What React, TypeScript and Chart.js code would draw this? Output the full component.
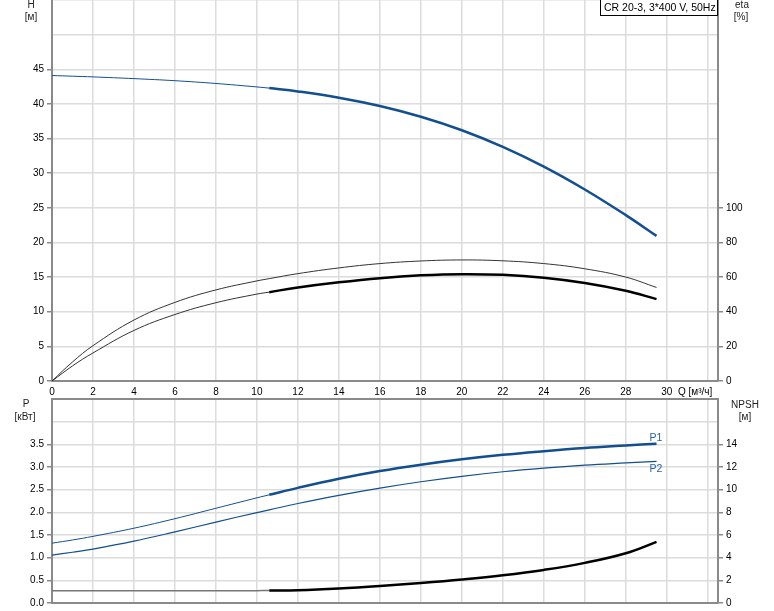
import React, { useEffect, useRef } from "react";
import { Chart, registerables } from "chart.js";
Chart.register(...registerables);

// Flow rate Q [m3/h]
const Q = [0, 1, 2, 4, 6, 8, 10, 10.6, 12, 14, 16, 18, 20, 22, 24, 26, 28, 29.5];
// Head H [m]
const H = [44.1, 44.0, 43.9, 43.65, 43.35, 42.95, 42.45, 42.28, 41.8, 40.9, 39.7, 38.15, 36.2, 33.8, 30.95, 27.65, 23.95, 20.95];
// Efficiencies [%]
const ETA_UPPER = [0, 11.0, 20.4, 35.2, 45.4, 52.6, 57.8, 59.1, 62.0, 65.3, 67.8, 69.3, 69.9, 69.4, 67.8, 64.8, 60.0, 54.0];
const ETA_LOWER = [0, 8.7, 16.2, 29.2, 38.4, 45.2, 50.2, 51.3, 54.0, 57.0, 59.4, 61.0, 61.7, 61.3, 59.6, 56.6, 52.1, 47.3];
// Power [kW]
const P1 = [1.32, 1.39, 1.47, 1.65, 1.86, 2.09, 2.32, 2.386, 2.54, 2.74, 2.91, 3.05, 3.17, 3.27, 3.35, 3.42, 3.475, 3.515];
const P2 = [1.055, 1.12, 1.19, 1.365, 1.57, 1.785, 1.995, 2.055, 2.195, 2.375, 2.535, 2.675, 2.795, 2.895, 2.975, 3.04, 3.09, 3.125];
// NPSH [m]
const NPSH = [1.09, 1.09, 1.09, 1.09, 1.09, 1.09, 1.09, 1.1, 1.13, 1.28, 1.5, 1.77, 2.08, 2.45, 2.92, 3.54, 4.39, 5.39];

const SPLIT = 10.6;
const Q_TICKS_MAX = 30;
const H_LABEL_MAX = 45;
const ETA_LABEL_MAX = 100;
const P_LABEL_MAX = 3.5;
const NPSH_LABEL_MAX = 14;

const LEGEND_TEXT = "CR 20-3, 3*400 V, 50Hz";

const BLUE = "#134f8e";
const GRID = "#dcdcdc";
const AXIS = "#8a8a8a";
const FONT_FAMILY = "'Liberation Sans', Arial, sans-serif";
const font = { family: FONT_FAMILY, size: 10 };

const thin = (x: number) => x <= SPLIT;
const thick = (x: number) => x >= SPLIT;
const all = () => true;

function line(ys: number[], filter: (x: number) => boolean, color: string, width: number, yAxisID: string) {
  return {
    data: Q.map((q, i) => ({ x: q, y: ys[i] })).filter((p) => filter(p.x)),
    borderColor: color,
    borderWidth: width,
    pointRadius: 0,
    fill: false,
    tension: 0.4,
    yAxisID,
  };
}

function yAxis(position: "left" | "right", min: number, max: number, step: number, labelMax: number, width: number, onArea: boolean, fmt: (v: number) => string) {
  return {
    type: "linear" as const,
    position,
    min,
    max,
    border: { color: AXIS, width: 2 },
    grid: {
      drawOnChartArea: onArea,
      color: GRID,
      lineWidth: 1.5,
      drawTicks: true,
      tickLength: 5,
      tickWidth: 1.5,
      tickColor: (ctx: any) => (ctx.tick && ctx.tick.value > labelMax + 1e-9 ? "rgba(0,0,0,0)" : AXIS),
    },
    ticks: {
      stepSize: step,
      color: "#000",
      font,
      padding: 3,
      autoSkip: false,
      callback: (v: any) => (Number(v) > labelMax + 1e-9 ? "" : fmt(Number(v))),
    },
    afterFit: (s: any) => {
      s.width = width;
      s.paddingTop = 0;
      s.paddingBottom = 0;
    },
  };
}

function xAxis(showLabels: boolean, height: number) {
  return {
    type: "linear" as const,
    min: 0,
    max: 32.5,
    border: { color: AXIS, width: 2 },
    grid: { color: GRID, lineWidth: 1.5, drawTicks: false },
    ticks: {
      display: showLabels,
      stepSize: 2,
      includeBounds: false,
      padding: 5,
      color: "#000",
      font,
      maxRotation: 0,
      autoSkip: false,
      callback: (v: any) => (Number(v) <= Q_TICKS_MAX ? String(v) : ""),
    },
    afterFit: (s: any) => {
      s.height = height;
      s.paddingLeft = 0;
      s.paddingRight = 0;
    },
  };
}

function text(ctx: CanvasRenderingContext2D, s: string, x: number, y: number, align: CanvasTextAlign = "center", color = "#222", size = 10) {
  ctx.save();
  ctx.font = `${size}px ${FONT_FAMILY}`;
  ctx.fillStyle = color;
  ctx.textAlign = align;
  ctx.textBaseline = "middle";
  ctx.fillText(s, x, y);
  ctx.restore();
}

const TOP_H = 400;
const BOT_TOP = 380;
const BOT_H = 231;

export default function App() {
  const topRef = useRef<HTMLCanvasElement>(null);
  const botRef = useRef<HTMLCanvasElement>(null);

  useEffect(() => {
    const topPlugin = {
      id: "topDecor",
      afterDraw(chart: any) {
        const ctx = chart.ctx as CanvasRenderingContext2D;
        text(ctx, "H", 31, 5);
        text(ctx, "[м]", 31, 17);
        text(ctx, "eta", 742, 5);
        text(ctx, "[%]", 741, 17);
        text(ctx, "Q [м³/ч]", 678, 392, "left", "#000");
        ctx.save();
        ctx.fillStyle = "#fff";
        ctx.fillRect(600.5, -0.5, 117, 16);
        ctx.strokeStyle = "#000";
        ctx.lineWidth = 1;
        ctx.strokeRect(600.5, -0.5, 117, 16);
        ctx.restore();
        text(ctx, LEGEND_TEXT, 604, 8, "left", "#000", 10.5);
      },
    };

    const botPlugin = {
      id: "botDecor",
      afterDraw(chart: any) {
        const ctx = chart.ctx as CanvasRenderingContext2D;
        const a = chart.chartArea;
        ctx.save();
        ctx.strokeStyle = AXIS;
        ctx.lineWidth = 2;
        ctx.beginPath();
        ctx.moveTo(a.left, a.top);
        ctx.lineTo(a.right, a.top);
        ctx.stroke();
        ctx.restore();
        const o = BOT_TOP;
        text(ctx, "P", 26, 404 - o);
        text(ctx, "[кВт]", 25, 417 - o);
        text(ctx, "NPSH", 745, 405 - o);
        text(ctx, "[м]", 745, 417 - o);
        text(ctx, "P1", 656, 438 - o, "center", "#2a5f9e", 10.5);
        text(ctx, "P2", 656, 469.5 - o, "center", "#2a5f9e", 10.5);
      },
    };

    const top = new Chart(topRef.current!, {
      type: "line",
      data: {
        datasets: [
          line(ETA_UPPER, all, "#333", 1, "yEta"),
          line(ETA_LOWER, thin, "#333", 1, "yEta"),
          line(ETA_LOWER, thick, "#000", 2.5, "yEta"),
          line(H, thin, BLUE, 1, "yH"),
          line(H, thick, BLUE, 2.5, "yH"),
        ] as any,
      },
      options: {
        responsive: false,
        maintainAspectRatio: false,
        animation: false,
        layout: { padding: 0 },
        plugins: { legend: { display: false }, tooltip: { enabled: false } },
        scales: {
          x: xAxis(true, TOP_H - 381),
          yH: yAxis("left", 0, 55, 5, H_LABEL_MAX, 52, true, (v) => String(v)),
          yEta: yAxis("right", 0, 220, 20, ETA_LABEL_MAX, 56, false, (v) => String(v)),
        } as any,
      },
      plugins: [topPlugin],
    });

    const bot = new Chart(botRef.current!, {
      type: "line",
      data: {
        datasets: [
          line(P1, thin, BLUE, 1, "yP"),
          line(P1, thick, BLUE, 2.5, "yP"),
          line(P2, all, BLUE, 1.2, "yP"),
          line(NPSH, thin, "#777", 1.5, "yN"),
          line(NPSH, thick, "#000", 2.5, "yN"),
        ] as any,
      },
      options: {
        responsive: false,
        maintainAspectRatio: false,
        animation: false,
        layout: { padding: { top: 399 - BOT_TOP, left: 0, right: 0, bottom: 0 } },
        plugins: { legend: { display: false }, tooltip: { enabled: false } },
        scales: {
          x: xAxis(false, BOT_TOP + BOT_H - 603),
          yP: yAxis("left", 0, 4.5, 0.5, P_LABEL_MAX, 52, true, (v) => v.toFixed(1)),
          yN: yAxis("right", 0, 18, 2, NPSH_LABEL_MAX, 56, false, (v) => String(v)),
        } as any,
      },
      plugins: [botPlugin],
    });

    return () => {
      top.destroy();
      bot.destroy();
    };
  }, []);

  return (
    <div style={{ position: "fixed", left: 0, top: 0, width: 774, height: 611, background: "#fff" }}>
      <canvas ref={topRef} width={774} height={TOP_H} style={{ position: "absolute", left: 0, top: 0, width: 774, height: TOP_H }} />
      <canvas ref={botRef} width={774} height={BOT_H} style={{ position: "absolute", left: 0, top: BOT_TOP, width: 774, height: BOT_H }} />
    </div>
  );
}
